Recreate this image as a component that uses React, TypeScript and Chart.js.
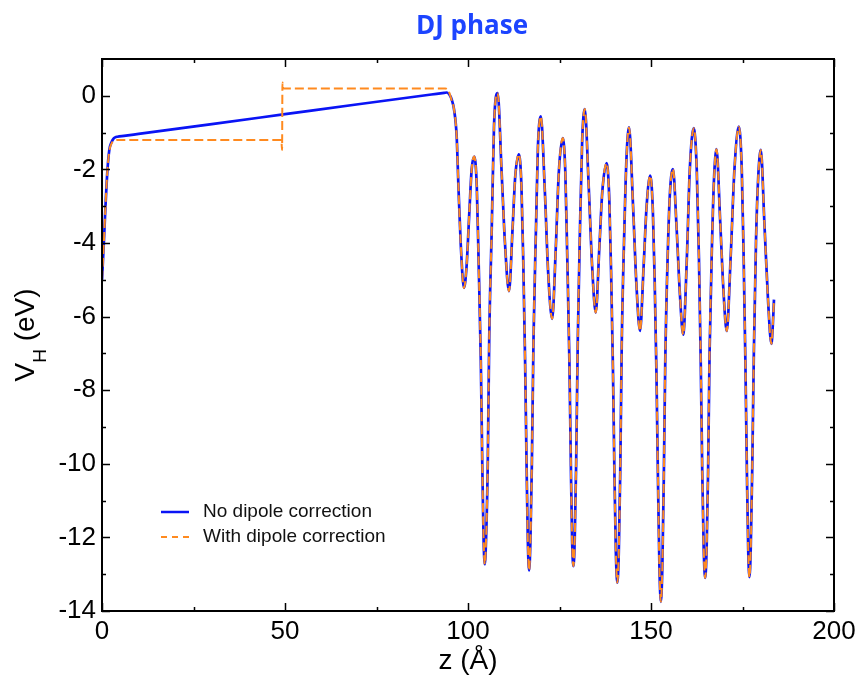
import React, { useEffect, useRef } from "react";
import { Chart, registerables } from "chart.js";

Chart.register(...registerables);

// ---------- data ----------
const chartTitle = "DJ phase";
const seriesNames = ["No dipole correction", "With dipole correction"];
const xAxisLabel = "z (Å)";

const xMajorTicks = [0, 50, 100, 150, 200];
const xMinorTicks = [25, 75, 125, 175];
const yMajorTicks = [-14, -12, -10, -8, -6, -4, -2, 0];
const yMinorTicks = [-13, -11, -9, -7, -5, -3, -1];

// vacuum / left region, no dipole correction
const blueLeftZ = [0, 0.5, 1.0, 1.5, 2.0, 2.6, 3.1, 3.6, 4.2, 6, 10, 30, 50, 70, 90, 93.5, 94.2, 95.0, 95.6, 96.2];
const blueLeftV = [-5.0, -4.0, -2.9, -2.0, -1.47, -1.26, -1.17, -1.13, -1.112, -1.088, -1.035, -0.77, -0.5, -0.23, 0.035, 0.08, 0.09, 0.02, -0.12, -0.38];

// vacuum / left region, with dipole correction
const orangeLeftZ = [0, 0.5, 1.0, 1.5, 2.0, 2.6, 3.3, 4.5, 25, 49.0, 49.2, 49.3, 49.5, 70, 93.8, 94.7, 95.4, 96.2];
const orangeLeftV = [-5.0, -4.0, -2.9, -2.0, -1.5, -1.3, -1.22, -1.2, -1.2, -1.2, -1.47, 0.36, 0.2, 0.2, 0.2, 0.13, -0.08, -0.38];

// slab region (both curves coincide)
const slabZ = [
  96.9, 97.4, 98.0, 98.9, 99.6, 100.4, 101.0, 101.7,
  102.4, 102.9, 103.5, 103.9, 104.25, 104.6, 104.95, 105.4, 105.8, 106.5, 107.1, 108.1,
  109.2, 110.1, 111.2, 112.2, 112.9, 113.9,
  114.6, 115.1, 115.6, 116.0, 116.35, 116.7, 117.05, 117.45, 117.9, 118.6, 119.1, 119.9,
  121.0, 121.9, 123.0, 124.0, 124.8, 125.9,
  126.6, 127.1, 127.7, 128.1, 128.45, 128.8, 129.15, 129.55, 130.0, 130.6, 131.2, 131.9,
  133.0, 133.9, 134.9, 135.9, 136.7, 137.9,
  138.6, 139.1, 139.6, 140.0, 140.4, 140.8, 141.2, 141.6, 142.0, 142.7, 143.3, 144.0,
  145.1, 146.0, 147.0, 148.0, 148.8, 149.8,
  150.5, 151.0, 151.5, 151.9, 152.3, 152.7, 153.1, 153.5, 153.9, 154.6, 155.2, 156.0,
  157.0, 157.9, 158.8, 159.8, 160.6, 161.7,
  162.5, 163.1, 163.6, 164.0, 164.4, 164.8, 165.2, 165.6, 166.0, 166.7, 167.2, 167.9,
  168.9, 169.8, 170.7, 171.8, 172.8, 174.0,
  174.8, 175.3, 175.8, 176.2, 176.55, 176.9, 177.25, 177.65, 178.1, 178.7, 179.3, 180.0,
  181.0, 182.0, 182.9, 183.3, 183.6,
];
const slabV = [
  -1.1, -2.5, -4.0, -5.22, -4.65, -3.1, -2.0, -1.65,
  -2.47, -4.5, -7.2, -10.0, -12.0, -12.73, -12.0, -10.0, -6.6, -3.56, -0.84, 0.07,
  -2.1, -4.0, -5.31, -3.56, -2.2, -1.59,
  -2.45, -4.5, -7.2, -10.0, -12.1, -12.9, -12.1, -10.0, -6.6, -3.5, -1.4, -0.56,
  -2.6, -4.8, -6.06, -4.1, -2.1, -1.15,
  -2.1, -4.3, -7.2, -10.0, -12.1, -12.78, -12.1, -10.0, -6.6, -3.6, -1.2, -0.36,
  -2.5, -4.6, -5.89, -4.1, -2.6, -1.83,
  -2.8, -4.8, -7.4, -10.2, -12.4, -13.23, -12.4, -10.2, -6.8, -3.7, -1.7, -0.86,
  -3.0, -5.1, -6.39, -4.6, -3.0, -2.17,
  -3.1, -5.0, -7.6, -10.4, -12.8, -13.75, -12.8, -10.4, -7.2, -4.2, -2.6, -1.99,
  -3.6, -5.4, -6.49, -4.4, -2.0, -0.88,
  -2.0, -4.4, -7.3, -10.2, -12.3, -13.1, -12.3, -10.2, -7.0, -3.9, -2.3, -1.45,
  -3.4, -5.3, -6.39, -4.3, -2.0, -0.84,
  -2.0, -4.3, -7.3, -10.2, -12.3, -13.08, -12.3, -10.2, -7.0, -3.9, -2.2, -1.47,
  -3.5, -5.6, -6.74, -6.2, -5.54,
];

// ---------- styles ----------
const BLUE = "#0a14f5";
const ORANGE = "#ff8a1f";
const TITLE_BLUE = "#1c44ff";
const SANS = "'Liberation Sans', Arial, Helvetica, sans-serif";

const toPoints = (zs: number[], vs: number[]) => zs.map((z, i) => ({ x: z, y: vs[i] }));

const decorPlugin = {
  id: "decor",
  afterDatasetsDraw(chart: any) {
    const { ctx, chartArea: a, scales } = chart;
    const xs = scales.x;
    const ys = scales.y;
    ctx.save();
    // inward ticks on all four sides
    ctx.strokeStyle = "#000";
    ctx.lineWidth = 1.5;
    ctx.beginPath();
    const xt = (vals: number[], len: number) => {
      for (const v of vals) {
        const p = Math.round(xs.getPixelForValue(v)) + 0.5;
        ctx.moveTo(p, a.bottom);
        ctx.lineTo(p, a.bottom - len);
        ctx.moveTo(p, a.top);
        ctx.lineTo(p, a.top + len);
      }
    };
    const yt = (vals: number[], len: number) => {
      for (const v of vals) {
        const p = Math.round(ys.getPixelForValue(v)) + 0.5;
        ctx.moveTo(a.left, p);
        ctx.lineTo(a.left + len, p);
        ctx.moveTo(a.right, p);
        ctx.lineTo(a.right - len, p);
      }
    };
    xt(xMajorTicks, 8);
    xt(xMinorTicks, 4);
    yt(yMajorTicks, 8);
    yt(yMinorTicks, 4);
    ctx.stroke();
    // frame
    ctx.lineWidth = 2;
    ctx.strokeRect(a.left, a.top, a.right - a.left, a.bottom - a.top);

    // title
    ctx.fillStyle = TITLE_BLUE;
    ctx.font = "bold 26px 'Open Sans', sans-serif";
    ctx.textAlign = "center";
    ctx.textBaseline = "alphabetic";
    ctx.fillText(chartTitle, 472, 34);

    // x axis title
    ctx.fillStyle = "#000";
    ctx.font = `28px ${SANS}`;
    ctx.textAlign = "center";
    ctx.fillText(xAxisLabel, (a.left + a.right) / 2, 669);

    // y axis title with subscript: V_H (eV)
    const big = `28px ${SANS}`;
    const small = `19px ${SANS}`;
    ctx.font = big;
    const wV = ctx.measureText("V").width;
    const wRest = ctx.measureText(" (eV)").width;
    ctx.font = small;
    const wH = ctx.measureText("H").width;
    const total = wV + wH + wRest;
    ctx.translate(34, (a.top + a.bottom) / 2);
    ctx.rotate(-Math.PI / 2);
    ctx.textAlign = "left";
    let cx = -total / 2;
    ctx.font = big;
    ctx.fillText("V", cx, 0);
    cx += wV;
    ctx.font = small;
    ctx.fillText("H", cx, 12);
    cx += wH;
    ctx.font = big;
    ctx.fillText(" (eV)", cx, 0);
    ctx.setTransform(1, 0, 0, 1, 0, 0);

    // legend
    const rows = [
      { y: 512, color: BLUE, dash: [] as number[], width: 2.5 },
      { y: 537, color: ORANGE, dash: [6, 5], width: 2 },
    ];
    rows.forEach((r, i) => {
      ctx.beginPath();
      ctx.strokeStyle = r.color;
      ctx.lineWidth = r.width;
      ctx.setLineDash(r.dash);
      ctx.moveTo(161, r.y);
      ctx.lineTo(189, r.y);
      ctx.stroke();
      ctx.setLineDash([]);
      ctx.fillStyle = "#111";
      ctx.font = `19px ${SANS}`;
      ctx.textAlign = "left";
      ctx.textBaseline = "middle";
      ctx.fillText(seriesNames[i], 203, r.y);
    });
    ctx.restore();
  },
};

export default function App() {
  const ref = useRef<HTMLCanvasElement | null>(null);

  useEffect(() => {
    if (!ref.current) return;
    const chart = new Chart(ref.current, {
      type: "line",
      data: {
        datasets: [
          {
            label: seriesNames[0],
            data: toPoints([...blueLeftZ, ...slabZ], [...blueLeftV, ...slabV]),
            borderColor: BLUE,
            borderWidth: 2.7,
            pointRadius: 0,
            cubicInterpolationMode: "monotone",
            fill: false,
            order: 2,
          },
          {
            label: seriesNames[1],
            data: toPoints([...orangeLeftZ, ...slabZ], [...orangeLeftV, ...slabV]),
            borderColor: ORANGE,
            borderWidth: 2,
            borderDash: [9, 4],
            pointRadius: 0,
            cubicInterpolationMode: "monotone",
            fill: false,
            order: 1,
          },
        ],
      },
      options: {
        responsive: false,
        animation: false,
        devicePixelRatio: 1,
        parsing: false,
        layout: { padding: { top: 59, right: 27, left: 0, bottom: 0 } },
        plugins: {
          legend: { display: false },
          tooltip: { enabled: false },
          title: { display: false },
        },
        scales: {
          x: {
            type: "linear",
            min: 0,
            max: 200,
            grid: { display: false, drawTicks: false },
            border: { display: false },
            afterBuildTicks: (s: any) => {
              s.ticks = xMajorTicks.map((v) => ({ value: v }));
            },
            afterFit: (s: any) => {
              s.height = 66;
            },
            ticks: {
              font: { family: SANS, size: 26 },
              color: "#000",
              padding: 5,
              maxRotation: 0,
              autoSkip: false,
            },
          },
          y: {
            type: "linear",
            min: -14,
            max: 1,
            grid: { display: false, drawTicks: false },
            border: { display: false },
            afterBuildTicks: (s: any) => {
              s.ticks = yMajorTicks.map((v) => ({ value: v }));
            },
            afterFit: (s: any) => {
              s.width = 102;
            },
            ticks: {
              font: { family: SANS, size: 26 },
              color: "#000",
              padding: 6,
              autoSkip: false,
            },
          },
        },
      },
      plugins: [decorPlugin],
    } as any);
    return () => chart.destroy();
  }, []);

  return (
    <div style={{ position: "absolute", left: 0, top: 0, width: 861, height: 677, background: "#fff" }}>
      <canvas ref={ref} width={861} height={677} style={{ width: 861, height: 677, display: "block" }} />
    </div>
  );
}
